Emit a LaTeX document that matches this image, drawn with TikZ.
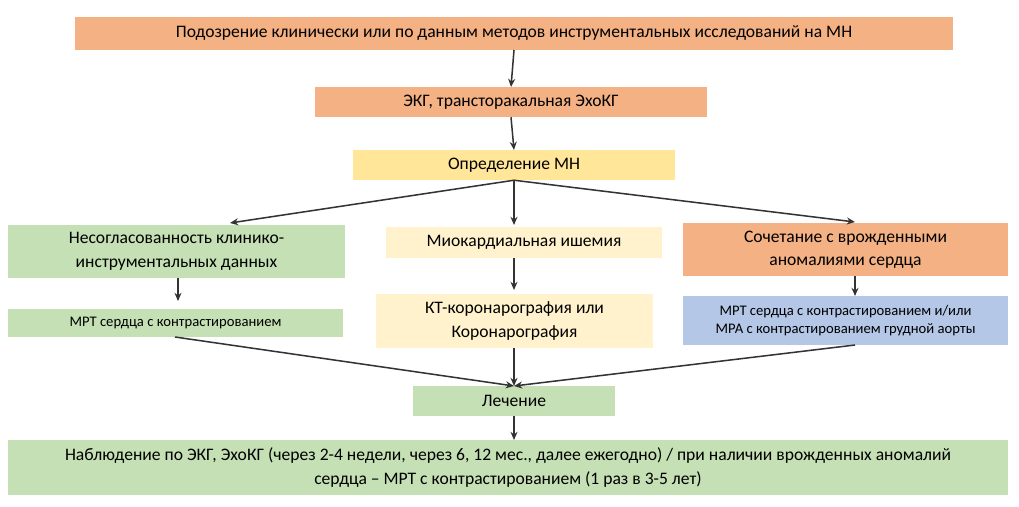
\documentclass[tikz,border=0pt]{standalone}
\usepackage{fontspec}
\setmainfont{Carlito}
\usetikzlibrary{arrows.meta}
\definecolor{orng}{HTML}{F4B183}
\definecolor{yel}{HTML}{FFE699}
\definecolor{lyel}{HTML}{FFF2CC}
\definecolor{grn}{HTML}{C5E0B4}
\definecolor{blu}{HTML}{B4C7E7}
\begin{document}
\begin{tikzpicture}[x=0.03cm,y=-0.03cm,
 box/.style={draw=none,inner sep=0pt,align=center,font=\fontsize{15}{20}\selectfont},
 sm/.style={font=\fontsize{12.5}{16}\selectfont},
 arr/.style={-{Stealth[length=7pt,width=6pt]},line width=1.3pt,draw=black!80}]
\useasboundingbox (0,0) rectangle (1019,506);
\node[box,fill=orng,minimum width=878*0.03cm,minimum height=33*0.03cm] (top) at (514,33.5) {Подозрение клинически или по данным методов инструментальных исследований на МН};
\node[box,fill=orng,minimum width=392*0.03cm,minimum height=30*0.03cm] (ekg) at (511,102) {ЭКГ, трансторакальная ЭхоКГ};
\node[box,fill=yel,minimum width=322*0.03cm,minimum height=30*0.03cm] (opr) at (514,165) {Определение МН};
\node[box,fill=grn,minimum width=337*0.03cm,minimum height=53*0.03cm] (left) at (176.5,251.5) {Несогласованность клинико-\\инструментальных данных};
\node[box,fill=lyel,minimum width=276*0.03cm,minimum height=31*0.03cm] (mid) at (524,242.5) {Миокардиальная ишемия};
\node[box,fill=orng,minimum width=325*0.03cm,minimum height=53*0.03cm] (right) at (845.5,249.5) {Сочетание с врожденными\\аномалиями сердца};
\node[box,sm,fill=grn,minimum width=335*0.03cm,minimum height=28*0.03cm] (mrtl) at (175.5,323) {МРТ сердца с контрастированием};
\node[box,fill=lyel,minimum width=277*0.03cm,minimum height=54*0.03cm] (kt) at (514.5,321) {КТ-коронарография или\\Коронарография};
\node[box,sm,fill=blu,minimum width=325*0.03cm,minimum height=49*0.03cm] (mrtr) at (845.5,320.5) {МРТ сердца с контрастированием и/или\\МРА с контрастированием грудной аорты};
\node[box,fill=grn,minimum width=202*0.03cm,minimum height=30*0.03cm] (lech) at (514,401) {Лечение};
\node[box,fill=grn,minimum width=1000*0.03cm,minimum height=55*0.03cm] (bot) at (508,467.5) {Наблюдение по ЭКГ, ЭхоКГ (через 2-4 недели, через 6, 12 мес., далее ежегодно) / при наличии врожденных аномалий\\сердца – МРТ с контрастированием (1 раз в 3-5 лет)};
\draw[arr] (514,50) -- (511,87);
\draw[arr] (ekg.south) -- (514,150);
\draw[arr] (opr.south) -- (230,223);
\draw[arr] (opr.south) -- (514,225);
\draw[arr] (opr.south) -- (855,222);
\draw[arr] (178,278) -- (178,301);
\draw[arr] (514,258) -- (514,290);
\draw[arr] (855,276) -- (855,296);
\draw[arr] (175,337) -- (514,386);
\draw[arr] (514,348) -- (514,386);
\draw[arr] (855,345) -- (514,386);
\draw[arr] (lech.south) -- (514,440);
\end{tikzpicture}
\end{document}
